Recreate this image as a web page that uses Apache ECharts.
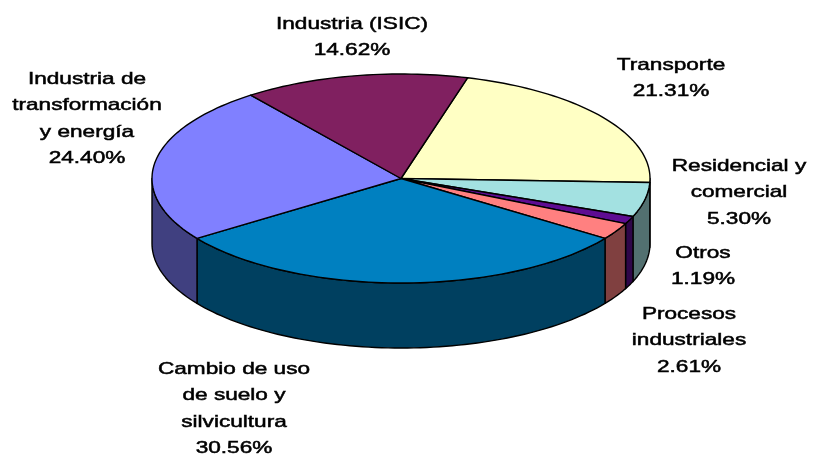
<!DOCTYPE html>
<html>
<head>
<meta charset="utf-8">
<style>html,body{margin:0;padding:0;background:#fff}#c{width:817px;height:462px}</style>
<script src="https://cdn.jsdelivr.net/npm/echarts@6/dist/echarts.min.js"></script>
</head>
<body>
<div id="c"></div>
<script>
const categories = ['Transporte', 'Residencial y\ncomercial', 'Otros', 'Procesos\nindustriales', 'Cambio de uso\nde suelo y\nsilvicultura', 'Industria de\ntransformación\ny energía', 'Industria (ISIC)'];
const shares = [21.31, 5.30, 1.19, 2.61, 30.56, 24.40, 14.62];
const topColors = ['#FFFFC4', '#A3E1E1', '#5E0C92', '#FF8080', '#0080C0', '#8080FF', '#802060'];
const wallColors = ['#808062', '#527070', '#2F0649', '#804040', '#004060', '#404080', '#401030'];
const labelAnchors = [[671, 65], [739, 166], [703, 253], [689, 314], [234, 369], [87, 79], [352, 24]];

const CX = 401, CY = 178.5, RX = 249, RY = 104.5, DEPTH = 65, START = 15.5;
const total = shares.reduce((a, b) => a + b, 0);
const rim = (deg, dy) => {
  const r = deg * Math.PI / 180;
  return [CX + RX * Math.sin(r), CY - RY * Math.cos(r) + (dy || 0)];
};
const arc = (a, b, dy) => {
  const pts = [], n = Math.max(2, Math.ceil(Math.abs(b - a) / 1.5));
  for (let i = 0; i <= n; i++) pts.push(rim(a + (b - a) * i / n, dy));
  return pts;
};
const edge = { stroke: '#000', lineWidth: 1.4, lineJoin: 'round' };

function renderItem(params, api) {
  const i = params.dataIndex;
  let before = 0;
  for (let k = 0; k < i; k++) before += shares[k];
  const a = START + before / total * 360;
  const b = a + api.value(0) / total * 360;
  const children = [];
  const wa = Math.max(a, 90), wb = Math.min(b, 270);
  if (wb > wa) {
    children.push({
      type: 'polygon',
      shape: { points: arc(wa, wb, 0).concat(arc(wb, wa, DEPTH)) },
      style: Object.assign({ fill: wallColors[i] }, edge)
    });
  }
  children.push({
    type: 'polygon',
    shape: { points: [[CX, CY]].concat(arc(a, b, 0)) },
    style: Object.assign({ fill: topColors[i] }, edge)
  });
  const lines = categories[i].split('\n').concat(api.value(0).toFixed(2) + '%');
  lines.forEach((t, k) => {
    children.push({
      type: 'text',
      x: labelAnchors[i][0],
      y: labelAnchors[i][1] + k * 26.5,
      scaleX: 1.33,
      style: {
        text: t, align: 'center', verticalAlign: 'middle',
        font: '17px "Liberation Sans", Arial, sans-serif',
        fill: '#000', stroke: '#000', lineWidth: 0.5
      }
    });
  });
  return { type: 'group', children };
}

const chart = echarts.init(document.getElementById('c'), null, { renderer: 'canvas' });
chart.setOption({
  animation: false,
  backgroundColor: '#fff',
  series: [{
    type: 'custom',
    coordinateSystem: 'none',
    renderItem,
    data: shares.map((v, i) => ({ name: categories[i], value: [v] }))
  }]
});
</script>
</body>
</html>
